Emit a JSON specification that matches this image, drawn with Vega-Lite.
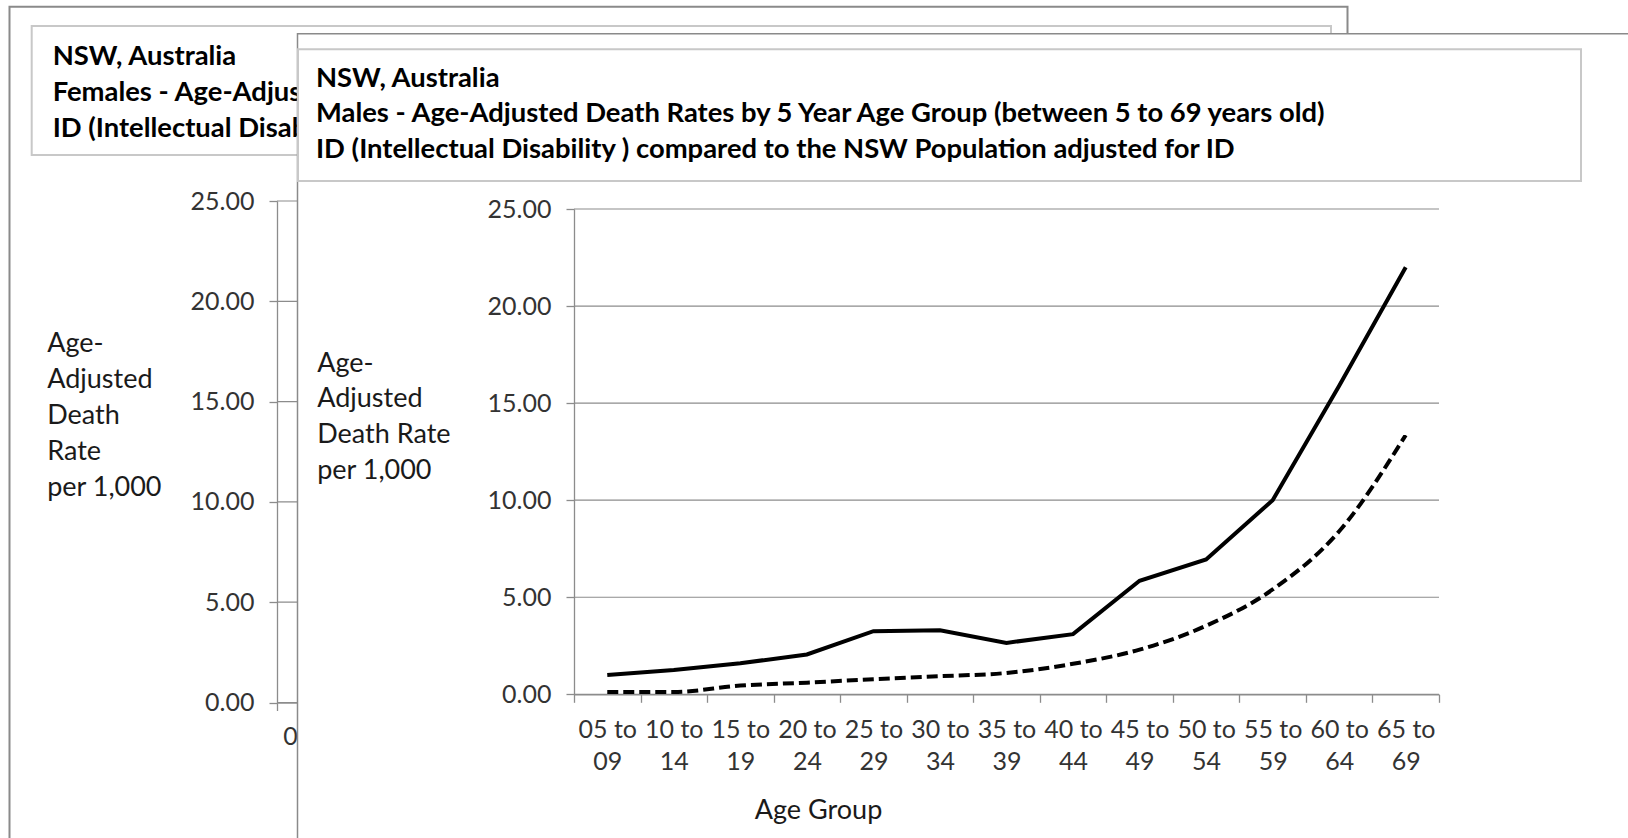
{
  "$schema": "https://vega.github.io/schema/vega-lite/v6.json",
  "width": 1628,
  "height": 838,
  "padding": 0,
  "autosize": {"type": "none"},
  "background": "#ffffff",
  "config": {
    "view": {"stroke": null},
    "font": "Lato",
    "axis": {
      "labelFont": "Lato",
      "labelFontSize": 25,
      "labelColor": "#333333",
      "tickColor": "#8c8c8c",
      "domainColor": "#8c8c8c",
      "tickSize": 8,
      "tickWidth": 1.3,
      "domainWidth": 1.3,
      "titleFont": "Lato",
      "titleFontSize": 27,
      "titleFontWeight": "normal",
      "titleColor": "#1a1a1a",
      "grid": false,
      "labelOverlap": false,
      "labelBound": false,
      "labelFlush": false
    }
  },
  "datasets": {
    "rates": [
      {"age": "05 to 09", "series": "ID", "rate": 1.0},
      {"age": "10 to 14", "series": "ID", "rate": 1.25},
      {"age": "15 to 19", "series": "ID", "rate": 1.6},
      {"age": "20 to 24", "series": "ID", "rate": 2.05},
      {"age": "25 to 29", "series": "ID", "rate": 3.25},
      {"age": "30 to 34", "series": "ID", "rate": 3.3},
      {"age": "35 to 39", "series": "ID", "rate": 2.65},
      {"age": "40 to 44", "series": "ID", "rate": 3.1},
      {"age": "45 to 49", "series": "ID", "rate": 5.85},
      {"age": "50 to 54", "series": "ID", "rate": 6.95},
      {"age": "55 to 59", "series": "ID", "rate": 10.0},
      {"age": "60 to 64", "series": "ID", "rate": 15.9},
      {"age": "65 to 69", "series": "ID", "rate": 22.0},
      {"age": "05 to 09", "series": "NSW", "rate": 0.12},
      {"age": "10 to 14", "series": "NSW", "rate": 0.12},
      {"age": "15 to 19", "series": "NSW", "rate": 0.45},
      {"age": "20 to 24", "series": "NSW", "rate": 0.6},
      {"age": "25 to 29", "series": "NSW", "rate": 0.78},
      {"age": "30 to 34", "series": "NSW", "rate": 0.93},
      {"age": "35 to 39", "series": "NSW", "rate": 1.1},
      {"age": "40 to 44", "series": "NSW", "rate": 1.57},
      {"age": "45 to 49", "series": "NSW", "rate": 2.3},
      {"age": "50 to 54", "series": "NSW", "rate": 3.53},
      {"age": "55 to 59", "series": "NSW", "rate": 5.4},
      {"age": "60 to 64", "series": "NSW", "rate": 8.4},
      {"age": "65 to 69", "series": "NSW", "rate": 13.35}
    ],
    "ticks": [{"v": 0}, {"v": 5}, {"v": 10}, {"v": 15}, {"v": 20}, {"v": 25}],
    "titles": [
      {"panel": "Females", "lines": ["NSW, Australia", "Females - Age-Adjusted Death Rates by 5 Year Age Group (between 5 to 69 years old)", "ID (Intellectual Disability ) compared to the NSW Population adjusted for ID"]},
      {"panel": "Males", "lines": ["NSW, Australia", "Males - Age-Adjusted Death Rates by 5 Year Age Group (between 5 to 69 years old)", "ID (Intellectual Disability ) compared to the NSW Population adjusted for ID"]}
    ]
  },
  "layer": [
    {
      "data": {"values": [{}]},
      "mark": {"type": "rect", "fill": "#ffffff", "fillOpacity": 0, "stroke": "#8a8a8a", "strokeWidth": 2},
      "encoding": {"x": {"value": 9.5}, "x2": {"value": 1347.5}, "y": {"value": 6.7}, "y2": {"value": 1000}}
    },
    {
      "data": {"name": "ticks"},
      "mark": {"type": "rule", "color": "#8c8c8c", "strokeWidth": 1.2},
      "encoding": {
        "y": {
          "field": "v", "type": "quantitative",
          "scale": {"domain": [0, 25], "range": [702.5, 201], "nice": false, "zero": false},
          "axis": {
            "orient": "left", "offset": -277, "values": [0, 5, 10, 15, 20, 25], "format": ".2f",
            "labelPadding": 15,
            "title": ["Age-", "Adjusted", "Death", "Rate", "per 1,000"],
            "titleX": -230.3, "titleY": 351.6, "titleAngle": 0, "titleAlign": "left",
            "titleBaseline": "alphabetic", "titleLineHeight": 36, "zindex": 0
          }
        },
        "x": {
          "datum": "05 to 09", "type": "nominal", "bandPosition": 0,
          "scale": {"type": "band", "domain": ["05 to 09", "10 to 14", "15 to 19", "20 to 24", "25 to 29", "30 to 34", "35 to 39", "40 to 44", "45 to 49", "50 to 54", "55 to 59", "60 to 64", "65 to 69"], "range": [277, 1187], "paddingInner": 0, "paddingOuter": 0},
          "axis": {
            "orient": "bottom", "offset": -135.5, "tickBand": "extent",
            "labelExpr": "datum.value === '05 to 09' ? [slice(datum.label, 0, 5), slice(datum.label, 6)] : ''",
            "labelAngle": 0, "labelAlign": "center",
            "labelPadding": 33.5, "labelBaseline": "alphabetic", "labelLineHeight": 32,
            "title": null, "zindex": 0
          }
        },
        "x2": {"datum": "65 to 69", "bandPosition": 1}
      }
    },
    {
      "data": {"values": [{}]},
      "mark": {"type": "rect", "fill": "#ffffff", "stroke": "#c8c8c8", "strokeWidth": 2},
      "encoding": {"x": {"value": 31.7}, "x2": {"value": 1331}, "y": {"value": 26}, "y2": {"value": 155}}
    },
    {
      "data": {"name": "titles"},
      "transform": [{"filter": "datum.panel === 'Females'"}],
      "mark": {"type": "text", "align": "left", "baseline": "alphabetic", "font": "Lato", "fontWeight": "bold", "fontSize": 27.4, "lineHeight": 35.8, "color": "#000000", "limit": 262, "ellipsis": " "},
      "encoding": {"text": {"field": "lines"}, "x": {"value": 52.7}, "y": {"value": 65}}
    },
    {
      "data": {"values": [{}]},
      "mark": {"type": "rect", "fill": "#ffffff", "stroke": "#8a8a8a", "strokeWidth": 1.5},
      "encoding": {"x": {"value": 297.5}, "x2": {"value": 2000}, "y": {"value": 33.7}, "y2": {"value": 1000}}
    },
    {
      "data": {"values": [{}]},
      "mark": {"type": "rect", "fill": "#ffffff", "stroke": "#c8c8c8", "strokeWidth": 2},
      "encoding": {"x": {"value": 298}, "x2": {"value": 1581}, "y": {"value": 49.3}, "y2": {"value": 181}}
    },
    {
      "data": {"name": "titles"},
      "transform": [{"filter": "datum.panel === 'Males'"}],
      "mark": {"type": "text", "align": "left", "baseline": "alphabetic", "font": "Lato", "fontWeight": "bold", "fontSize": 27.4, "lineHeight": 35.8, "color": "#000000"},
      "encoding": {"text": {"field": "lines"}, "x": {"value": 316}, "y": {"value": 86.5}}
    },
    {
      "data": {"name": "ticks"},
      "mark": {"type": "rule", "color": "#8c8c8c", "strokeWidth": 1.2},
      "encoding": {
        "y": {
          "field": "v", "type": "quantitative",
          "scale": {"domain": [0, 25], "range": [694.3, 209], "nice": false, "zero": false},
          "axis": null
        },
        "x": {
          "datum": "05 to 09", "type": "nominal", "bandPosition": 0,
          "scale": {"type": "band", "domain": ["05 to 09", "10 to 14", "15 to 19", "20 to 24", "25 to 29", "30 to 34", "35 to 39", "40 to 44", "45 to 49", "50 to 54", "55 to 59", "60 to 64", "65 to 69"], "range": [574, 1439], "paddingInner": 0, "paddingOuter": 0},
          "axis": null
        },
        "x2": {"datum": "65 to 69", "bandPosition": 1}
      }
    },
    {
      "data": {"name": "rates"},
      "transform": [{"filter": "datum.series === 'ID'"}],
      "mark": {"type": "line", "color": "#000000", "strokeWidth": 4, "strokeJoin": "miter"},
      "encoding": {
        "x": {
          "field": "age", "type": "nominal",
          "scale": {"type": "band", "domain": ["05 to 09", "10 to 14", "15 to 19", "20 to 24", "25 to 29", "30 to 34", "35 to 39", "40 to 44", "45 to 49", "50 to 54", "55 to 59", "60 to 64", "65 to 69"], "range": [574, 1439], "paddingInner": 0, "paddingOuter": 0},
          "axis": {
            "orient": "bottom", "offset": -143.7, "tickBand": "extent",
            "labelExpr": "[slice(datum.label, 0, 5), slice(datum.label, 6)]",
            "labelAngle": 0, "labelAlign": "center",
            "labelPadding": 34.7, "labelBaseline": "alphabetic", "labelLineHeight": 32,
            "title": "Age Group", "titleX": 818, "titleY": 123.7, "titleAlign": "center",
            "titleBaseline": "alphabetic", "zindex": 1
          }
        },
        "y": {
          "field": "rate", "type": "quantitative",
          "scale": {"domain": [0, 25], "range": [694.3, 209], "nice": false, "zero": false},
          "axis": {
            "orient": "left", "offset": -574, "values": [0, 5, 10, 15, 20, 25], "format": ".2f",
            "labelPadding": 15,
            "title": ["Age-", "Adjusted", "Death Rate", "per 1,000"],
            "titleX": -257.3, "titleY": 371, "titleAngle": 0, "titleAlign": "left",
            "titleBaseline": "alphabetic", "titleLineHeight": 35.7, "zindex": 1
          }
        }
      }
    },
    {
      "data": {"name": "rates"},
      "transform": [{"filter": "datum.series === 'NSW'"}],
      "mark": {"type": "line", "color": "#000000", "strokeWidth": 4, "strokeDash": [11, 5], "interpolate": "monotone"},
      "encoding": {
        "x": {
          "field": "age", "type": "nominal",
          "scale": {"type": "band", "domain": ["05 to 09", "10 to 14", "15 to 19", "20 to 24", "25 to 29", "30 to 34", "35 to 39", "40 to 44", "45 to 49", "50 to 54", "55 to 59", "60 to 64", "65 to 69"], "range": [574, 1439], "paddingInner": 0, "paddingOuter": 0},
          "axis": null
        },
        "y": {
          "field": "rate", "type": "quantitative",
          "scale": {"domain": [0, 25], "range": [694.3, 209], "nice": false, "zero": false},
          "axis": null
        }
      }
    }
  ],
  "resolve": {
    "scale": {"x": "independent", "y": "independent"},
    "axis": {"x": "independent", "y": "independent"}
  }
}
